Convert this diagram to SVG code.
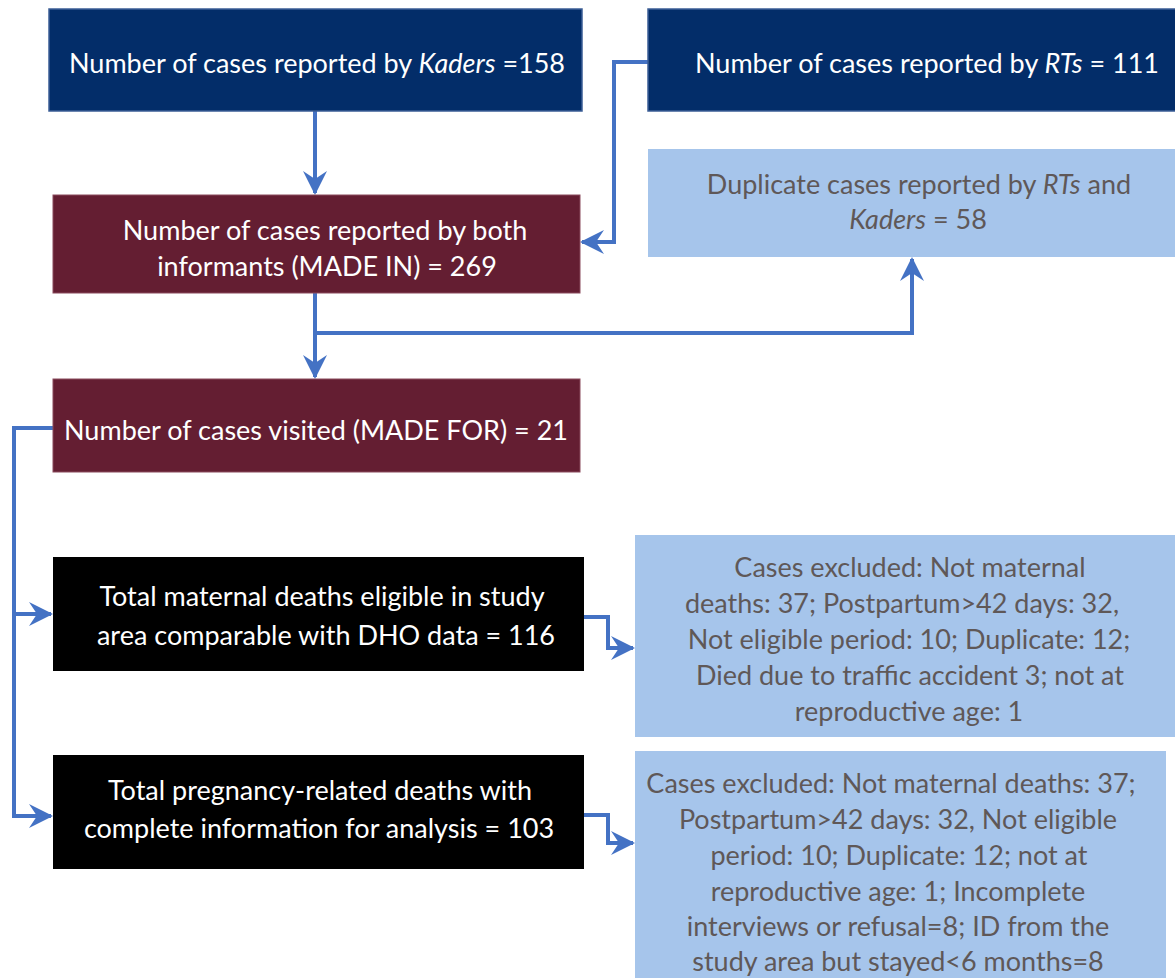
<svg xmlns="http://www.w3.org/2000/svg" width="1175" height="978" viewBox="0 0 1175 978">
<style>
.t{font-family:Lato,"Open Sans","Liberation Sans",sans-serif;font-size:27px;text-anchor:middle}
.w{fill:#ffffff}
.g{fill:#5f5858}
.navy{fill:#032D69;stroke:#3B5E96;stroke-width:1.5}
.mar{fill:#641E32;stroke:#8a4a5c;stroke-width:1}
.blk{fill:#000000}
.lb{fill:#A6C5EB}
.c{fill:none;stroke:#4472C4;stroke-width:4}
</style>
<defs>
<marker id="ah" viewBox="0 0 12 12" refX="11" refY="6" markerWidth="6" markerHeight="6" markerUnits="strokeWidth" orient="auto">
<path d="M0,0 L12,6 L0,12 L4,6 z" fill="#4472C4"/>
</marker>
</defs>
<rect width="1175" height="978" fill="#ffffff"/>
<g id="connectors">
<path class="c" d="M315,111 V193" marker-end="url(#ah)"/>
<path class="c" d="M648,62 H614 V242 H582" marker-end="url(#ah)"/>
<path class="c" d="M315,293 V377" marker-end="url(#ah)"/>
<path class="c" d="M315,333 H912 V259" marker-end="url(#ah)"/>
<path class="c" d="M53,428 H14 V614 H51" marker-end="url(#ah)"/>
<path class="c" d="M14,612 V816 H51" marker-end="url(#ah)"/>
<path class="c" d="M584,617 H608 V648 H633" marker-end="url(#ah)"/>
<path class="c" d="M584,815 H608 V843 H633" marker-end="url(#ah)"/>
</g>
<g id="n1">
<rect class="navy" x="49" y="9" width="533" height="102"/>
<text class="t w" x="317" y="73">Number of cases reported by <tspan font-style="italic">Kaders</tspan> =158</text>
</g>
<g id="n2">
<rect class="navy" x="648" y="9" width="540" height="102"/>
<text class="t w" x="927" y="73">Number of cases reported by <tspan font-style="italic">RTs</tspan> = 111</text>
</g>
<g id="n3">
<rect class="mar" x="53" y="195" width="527" height="98"/>
<text class="t w" x="325" y="240">Number of cases reported by both</text>
<text class="t w" x="327" y="276">informants (MADE IN) = 269</text>
</g>
<g id="n4">
<rect class="lb" x="648" y="149" width="540" height="108"/>
<text class="t g" x="919" y="194">Duplicate cases reported by <tspan font-style="italic">RTs</tspan> and</text>
<text class="t g" x="918" y="229"><tspan font-style="italic">Kaders</tspan> = 58</text>
</g>
<g id="n5">
<rect class="mar" x="53" y="379" width="527" height="93"/>
<text class="t w" x="316" y="440">Number of cases visited (MADE FOR) = 21</text>
</g>
<g id="n6">
<rect class="blk" x="53" y="557" width="531" height="114"/>
<text class="t w" x="322" y="606">Total maternal deaths eligible in study</text>
<text class="t w" x="326" y="645">area comparable with DHO data = 116</text>
</g>
<g id="n7">
<rect class="blk" x="53" y="755" width="531" height="114"/>
<text class="t w" x="320" y="800">Total pregnancy-related deaths with</text>
<text class="t w" x="319" y="838">complete information for analysis = 103</text>
</g>
<g id="n8">
<rect class="lb" x="635" y="535" width="545" height="202"/>
<text class="t g" x="910" y="577">Cases excluded: Not maternal</text>
<text class="t g" x="902" y="613">deaths: 37; Postpartum&gt;42 days: 32,</text>
<text class="t g" x="909" y="649">Not eligible period: 10; Duplicate: 12;</text>
<text class="t g" x="910" y="685">Died due to traffic accident 3; not at</text>
<text class="t g" x="909" y="721">reproductive age: 1</text>
</g>
<g id="n9">
<rect class="lb" x="635" y="751" width="531" height="230"/>
<text class="t g" x="891" y="793">Cases excluded: Not maternal deaths: 37;</text>
<text class="t g" x="898" y="829">Postpartum&gt;42 days: 32, Not eligible</text>
<text class="t g" x="899" y="865">period: 10; Duplicate: 12; not at</text>
<text class="t g" x="898" y="901">reproductive age: 1; Incomplete</text>
<text class="t g" x="898" y="936">interviews or refusal=8; ID from the</text>
<text class="t g" x="898" y="971">study area but stayed&lt;6 months=8</text>
</g>
</svg>
